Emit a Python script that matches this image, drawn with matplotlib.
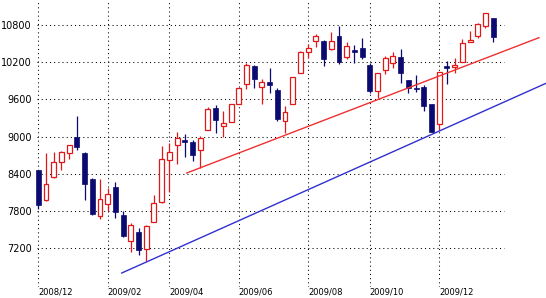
import numpy as np
import pandas as pd
import matplotlib
matplotlib.use("Agg")
import matplotlib.pyplot as plt
from matplotlib.patches import Rectangle

# weekly candles, Dec 2008 - Jan 2010
weeks = pd.date_range("2008-12-01", periods=60, freq="W-MON")
opens = [8460, 7975, 8345, 8595, 8730, 9000, 8740, 8315, 7720, 7910,
         8185, 7740, 7320, 7460, 7190, 7625, 7945, 8625, 8860, 8945,
         8910, 8785, 9105, 9465, 9170, 9240, 9525, 9845, 10140, 9795,
         9880, 9750, 9250, 9525, 10030, 10355, 10535, 10545, 10405, 10620,
         10275, 10395, 10420, 10150, 9740, 10070, 10180, 10275, 9910, 9785,
         9795, 9525, 9195, 10135, 10125, 10205, 10525, 10620, 10780, 10905]
highs = [8470, 8730, 8750, 8760, 8870, 9330, 8745, 8340, 8310, 8170,
         8275, 7800, 7615, 7535, 7570, 8060, 8850, 8890, 9070, 9040,
         8945, 9015, 9480, 9510, 9410, 9530, 9805, 10180, 10150, 9920,
         10100, 9775, 9490, 9960, 10370, 10485, 10650, 10550, 10680, 10780,
         10525, 10475, 10580, 10180, 10020, 10295, 10365, 10410, 9915, 9990,
         9830, 9530, 10040, 10215, 10260, 10570, 10705, 10820, 10990, 10910]
lows = [7835, 7960, 8340, 8460, 8635, 8785, 7980, 7745, 7670, 7800,
        7685, 7380, 7145, 7095, 7005, 7620, 7925, 8115, 8560, 8675,
        8610, 8490, 9100, 9055, 9000, 9230, 9520, 9760, 9775, 9525,
        9695, 9250, 9055, 9520, 10025, 10260, 10435, 10135, 10400, 10165,
        10250, 10180, 10245, 9695, 9615, 10005, 10110, 9855, 9695, 9720,
        9415, 9075, 9100, 9840, 10030, 10200, 10520, 10590, 10740, 10525]
closes = [7900, 8230, 8585, 8745, 8865, 8835, 8235, 7750, 7990, 8070,
          7790, 7400, 7575, 7175, 7565, 7935, 8635, 8745, 8970, 8910,
          8705, 8970, 9445, 9265, 9225, 9520, 9775, 10150, 9920, 9885,
          9825, 9280, 9400, 9955, 10365, 10420, 10625, 10250, 10545, 10195,
          10455, 10365, 10275, 9735, 10020, 10260, 10295, 10030, 9775, 9760,
          9490, 9080, 10040, 10110, 10150, 10500, 10555, 10805, 10980, 10595]

# trend lines (week index, price)
red_trend_x = [19.25, 64.94]
red_trend_y = [8414, 10591]
blue_trend_x = [10.82, 65.85]
blue_trend_y = [6805, 9857]

y_ticks = [7200, 7800, 8400, 9000, 9600, 10200, 10800]

up_color = "#e01818"
down_color = "#0a0a70"

fig = plt.figure(figsize=(5.46, 2.98), dpi=100)
ax = fig.add_axes([34 / 546, 11 / 298, 512 / 546, 287 / 298])
ax.set_xlim(-0.56, 65.85)
ax.set_ylim(6580, 11197)
for s in ax.spines.values():
    s.set_visible(False)

# month ticks: first week whose Friday falls in a new even month
fridays = weeks + pd.Timedelta(days=4)
tick_pos, tick_lab = [], []
prev = None
for i, d in enumerate(fridays):
    if d.month != prev and d.month % 2 == 0:
        tick_pos.append(i)
        tick_lab.append(d.strftime("%Y/%m"))
    prev = d.month

# dotted grid
dots = (0, (1, 3))
for p in tick_pos:
    ax.axvline(p, color="black", lw=0.75, ls=dots, zorder=1)
ax.hlines(y_ticks, -0.2, 60.4, color="black", lw=0.75, ls=dots, zorder=1)

# candles
w = 0.64
for i in range(len(opens)):
    o, h, l, c = opens[i], highs[i], lows[i], closes[i]
    up = c >= o
    col = up_color if up else down_color
    ax.vlines(i, l, h, color=col, lw=0.9, zorder=2)
    bottom = min(o, c)
    height = max(abs(c - o), 25)
    if up:
        ax.add_patch(Rectangle((i - w / 2, bottom), w, height, facecolor="white",
                               edgecolor=col, lw=0.9, zorder=3))
    else:
        ax.add_patch(Rectangle((i - w / 2, bottom), w, height, facecolor=col,
                               edgecolor=col, lw=0.5, zorder=3))

ax.plot(red_trend_x, red_trend_y, color="#f03030", lw=1.0, zorder=4)
ax.plot(blue_trend_x, blue_trend_y, color="#3030d0", lw=1.0, zorder=4)

ax.set_yticks(y_ticks)
ax.set_yticklabels([str(v) for v in y_ticks], fontsize=7)
ax.set_xticks(tick_pos)
ax.set_xticklabels(tick_lab, fontsize=6, ha="left")
ax.tick_params(length=0)
ax.tick_params(axis="y", pad=1.5)
ax.tick_params(axis="x", pad=0.5)

fig.savefig("out.png", dpi=100)
